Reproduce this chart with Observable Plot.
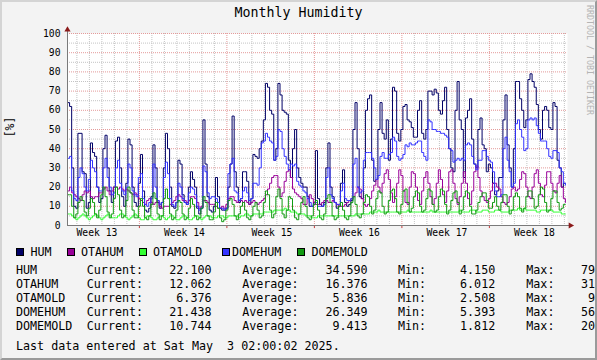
<!DOCTYPE html>
<html><head><meta charset="utf-8">
<script src="https://cdn.jsdelivr.net/npm/d3@7"></script>
<script src="https://cdn.jsdelivr.net/npm/@observablehq/plot@0.6"></script>
<style>
html,body{margin:0;padding:0;background:#f3f3f3;}
#chart{position:relative;width:597px;height:360px;overflow:hidden;background:#f3f3f3;font-family:"DejaVu Sans Mono",monospace;color:#000;}
#chart svg{position:absolute;left:0;top:0;}
.t{position:absolute;white-space:pre;font-size:11.7px;line-height:14px;height:14px;}
.r{text-align:right;}
.sw{position:absolute;width:6px;height:6px;border:1px solid #000;}
#frame{position:absolute;left:0;top:0;width:597px;height:360px;box-sizing:border-box;border-top:2px solid #d4d4d4;border-left:2px solid #d4d4d4;border-right:2px solid #9a9a9a;border-bottom:2px solid #9a9a9a;pointer-events:none;}
</style></head>
<body><div id="chart"></div>
<script>
// ---- data (4-hour samples, Mar 24 06:00 -> May 3 02:00) ----
const seriesNames = ["HUM", "OTAHUM", "OTAMOLD", "DOMEHUM", "DOMEMOLD"];
const seriesColors = ["#000066", "#990099", "#33ff33", "#3333ff", "#119a11"];

const hum = [64,62,30,10,9,48,48,28,27,9, 12,43,38,36,20,12,14,40,47,30,
  18,12,20,44,46,30,15,10,22,45, 42,20,12,10,22,37,18,8,7,9,
  15,42,30,12,9,12,30,48,40,20, 10,9,12,34,32,16,12,11,20,28,
  24,20,9,6,9,55,32,15,8,7, 10,25,15,9,8,8,9,20,32,57,
  28,20,12,14,28,28,23,11,14,37, 36,35,40,44,55,74,72,60,58,34,
  40,74,68,60,59,58,34,25,40,50, 30,25,22,20,20,15,10,10,12,39,
  14,11,10,12,30,43,20,15,12,9, 10,22,29,12,10,11,13,50,64,40,
  15,14,30,60,66,68,34,23,24,50, 64,48,45,55,34,45,72,70,48,44,
  50,62,63,55,54,51,46,46,60,65, 48,45,50,70,70,68,71,69,60,58,
  65,72,50,40,30,28,60,75,55,50, 25,56,60,66,45,32,30,50,56,42,
  40,28,32,30,22,16,18,25,25,55, 68,42,30,20,40,75,75,66,60,51,
  55,76,79,75,72,63,50,45,60,62, 60,51,50,64,62,34,30,20,22,22];

const otahum = [18,20,17,16,15,14,13,16,18,17, 18,15,14,15,15,17,17,19,20,18,
  16,18,20,20,19,20,19,18,19,18, 17,16,17,16,14,13,12,11,13,14,
  12,11,12,13,10,9,10,10,10,11, 12,13,15,16,15,13,13,12,13,15,
  15,14,12,9,10,13,13,12,11,11, 11,10,9,9,10,9,11,14,15,15,
  13,12,13,13,12,13,12,11,12,13, 12,11,12,13,14,16,19,22,25,26,
  26,20,15,17,23,28,29,25,19,17, 16,15,14,11,11,14,16,14,12,11,
  11,11,12,13,13,12,12,13,12,11, 10,10,10,11,12,13,14,15,17,20,
  19,14,11,10,11,14,18,21,24,20, 17,22,27,29,24,17,12,15,22,29,
  26,18,12,11,20,28,27,20,13,11, 18,25,28,22,15,11,14,22,29,24,
  16,12,18,28,29,22,14,11,15,22, 28,22,14,11,18,28,31,25,18,15,
  13,12,14,18,22,22,20,19,15,12, 11,12,15,19,20,18,19,24,28,27,
  20,15,14,20,27,29,22,16,15,21, 28,28,22,18,17,22,26,20,14,12];

const otamold = [6,6,5,4,3,4,5,6,5,4, 3,4,5,6,5,4,3,4,5,6,
  5,4,4,4,5,6,6,5,4,3, 4,5,6,5,4,3,3,4,5,5,
  4,3,3,4,5,5,4,3,4,5, 5,4,3,3,4,5,5,4,3,3,
  4,5,5,4,3,4,5,5,5,4, 4,4,5,5,5,4,4,5,5,5,
  5,5,4,5,5,6,6,5,5,6, 6,6,6,6,7,7,7,7,7,8,
  8,8,8,8,9,8,8,7,7,7, 6,6,6,6,5,5,5,4,4,4,
  5,5,5,5,5,5,5,5,5,5, 5,5,5,5,5,5,5,5,6,6,
  6,6,6,6,6,7,7,7,7,8, 7,7,7,7,7,7,7,7,7,7,
  7,7,7,8,7,7,7,7,7,7, 7,7,7,7,8,7,7,7,7,7,
  7,7,7,7,7,7,7,7,8,7, 7,7,7,8,8,8,7,7,7,8,
  8,8,7,7,7,8,8,8,7,7, 7,7,8,8,8,8,9,8,8,9,
  8,8,8,8,8,7,7,8,8,8, 8,8,8,7,7,7,7,6,6,6];

const domehum = [35,36,18,14,13,25,30,27,20,18, 24,34,30,28,20,18,18,30,35,25,
  20,16,17,30,34,22,18,16,20,32, 30,18,16,15,25,27,14,11,10,12,
  14,32,20,13,11,12,25,33,27,14, 11,10,12,22,20,14,12,11,17,20,
  19,16,10,8,9,31,28,17,14,15, 15,14,12,9,9,8,9,27,32,35,
  18,17,13,14,18,20,17,13,14,22, 22,21,30,43,44,48,46,44,43,34,
  36,50,49,40,36,32,29,32,31,32, 23,21,20,18,17,14,12,10,11,12,
  10,10,10,11,25,30,16,14,12,11, 11,18,22,14,13,13,14,32,35,20,
  17,18,34,38,38,38,35,30,24,26, 36,38,35,35,37,38,46,44,36,34,
  35,37,42,41,43,42,42,43,44,44, 38,36,34,55,54,50,50,49,49,48,
  48,47,46,40,39,33,34,35,34,35, 34,42,43,42,36,32,29,34,34,39,
  39,36,34,33,28,18,15,15,16,40, 46,34,28,20,22,53,55,50,46,39,
  40,55,56,55,56,52,48,44,44,44, 40,36,35,39,39,38,30,28,22,21];

const domemold = [16,16,10,4,6,12,15,13,7,5, 9,14,12,6,4,8,16,20,15,7,
  4,6,14,20,16,8,4,5,13,20, 17,8,4,4,10,14,10,4,3,5,
  11,17,14,6,3,5,14,19,14,6, 3,4,8,13,12,6,3,4,9,14,
  11,5,3,4,9,15,12,5,3,3, 7,12,9,4,2,3,8,13,14,11,
  5,3,6,10,12,8,4,3,5,10, 12,8,4,5,12,18,16,8,4,6,
  15,19,14,6,4,8,15,14,8,4, 3,6,12,15,10,4,3,5,11,13,
  8,4,3,6,14,16,12,5,3,4, 10,12,8,4,3,5,12,15,11,5,
  4,6,12,16,15,10,6,8,14,18, 17,10,6,7,13,18,19,14,7,6,
  11,18,19,12,7,9,15,18,17,10, 7,8,14,19,18,11,7,8,15,19,
  18,11,6,8,13,17,18,12,6,8, 15,18,17,10,6,6,8,12,15,17,
  17,13,9,9,12,15,10,8,12,16, 16,10,6,8,15,17,15,9,7,9,
  15,18,18,14,9,10,16,20,19,12, 7,8,14,18,18,12,8,9,11,11];

const statCurrent = ["22.100", "12.062", "6.376", "21.438", "10.744"];
const statAverage = ["34.590", "16.376", "5.836", "26.349", "9.413"];
const statMin = ["4.150", "6.012", "2.508", "5.393", "1.812"];
const statMax = ["79.300", "31.050", "9.290", "56.180", "20.130"];

const yMajorTicks = [0, 10, 20, 30, 40, 50, 60, 70, 80, 90, 100];
const yMinorTicks = [5, 15, 25, 35, 45, 55, 65, 75, 85, 95];
const weekLabelDates = ["2025-03-26T14:30Z", "2025-04-02T14:30Z", "2025-04-09T14:30Z",
  "2025-04-16T14:30Z", "2025-04-23T14:30Z", "2025-04-30T14:30Z"].map(s => new Date(s));

const titleText = "Monthly Humidity";
const yLabelText = "[%]";
const watermarkText = "RRDTOOL / TOBI OETIKER";
const lastDataText = "Last data entered at Sat May  3 02:00:02 2025.";

// ---- time axis ----
const tStart = new Date(Date.UTC(2025, 2, 24, 6));
const tEnd = new Date(Date.UTC(2025, 4, 3, 6));
const stepHours = 4;
const rows = hum.map((v, i) => ({
  t: new Date(+tStart + i * stepHours * 3600e3),
  HUM: v, OTAHUM: otahum[i], OTAMOLD: otamold[i], DOMEHUM: domehum[i], DOMEMOLD: domemold[i]
}));
const weekTicks = d3.utcSunday.range(tStart, tEnd);
const dayTicks = d3.utcDay.range(tStart, tEnd).filter(d => d.getUTCDay() !== 0);
const span = tEnd - tStart;
const xAxisEnd = new Date(+tEnd + span * 0.005);

const dash = "1,1";
const svg = Plot.plot({
  width: 597, height: 360,
  marginLeft: 67, marginRight: 30, marginTop: 33, marginBottom: 135,
  x: {type: "utc", domain: [tStart, tEnd], axis: null},
  y: {domain: [0, 100], axis: null},
  style: {background: "transparent", fontFamily: "DejaVu Sans Mono", fontSize: "9.7px", color: "#000", overflow: "visible"},
  marks: [
    Plot.frame({fill: "#ffffff"}),
    Plot.ruleY(yMinorTicks, {stroke: "#c4c4c4", strokeDasharray: dash}),
    Plot.ruleX(dayTicks, {stroke: "#c4c4c4", strokeDasharray: dash}),
    Plot.ruleY(yMajorTicks.filter(v => v > 0), {stroke: "#e49a9a", strokeDasharray: dash}),
    Plot.ruleX(weekTicks, {stroke: "#e49a9a", strokeDasharray: dash}),
    ...seriesNames.map((k, i) => Plot.line(rows, {x: "t", y: k, stroke: seriesColors[i], strokeWidth: 1, curve: "step-after"})),
    Plot.ruleX(weekTicks, {y1: 0, y2: -1.6, stroke: "#c43c3c"}),
    Plot.ruleY([0], {x1: tStart, x2: xAxisEnd, stroke: "#7a7a7a"}),
    Plot.ruleX([tStart], {y1: 0, y2: 103, stroke: "#7a7a7a"}),
    Plot.dot([0], {frameAnchor: "top-left", dy: -3.7, symbol: "triangle", r: 2.3, fill: "#8b1a1a", stroke: null}),
    Plot.dot([0], {frameAnchor: "bottom-right", dx: 3, symbol: "triangle", r: 2.3, rotate: 90, fill: "#8b1a1a", stroke: null}),
    Plot.text(yMajorTicks, {y: d => d, frameAnchor: "left", dx: -7, textAnchor: "end", text: d => String(d), fill: "#000"}),
    Plot.text(weekLabelDates, {x: d => d, frameAnchor: "bottom", dy: 10, text: d3.utcFormat("Week %V"), fill: "#000"})
  ]
});

const chart = document.getElementById("chart");
chart.appendChild(svg);

function addText(txt, left, centerY, opts = {}) {
  const d = document.createElement("div");
  d.className = "t" + (opts.right ? " r" : "");
  d.textContent = txt;
  if (opts.right) { d.style.right = (597 - left) + "px"; } else { d.style.left = left + "px"; }
  d.style.top = (centerY - 7) + "px";
  chart.appendChild(d);
  return d;
}

// title
const title = document.createElement("div");
title.textContent = titleText;
Object.assign(title.style, {position: "absolute", left: "0", width: "597px", top: "5px", textAlign: "center", fontSize: "13.3px", lineHeight: "16px", whiteSpace: "pre"});
chart.appendChild(title);

// y label
const yl = document.createElement("div");
yl.textContent = yLabelText;
Object.assign(yl.style, {position: "absolute", left: "9.5px", top: "127px", transform: "translate(-50%,-50%) rotate(-90deg)", fontSize: "11.4px", lineHeight: "12px", whiteSpace: "pre"});
chart.appendChild(yl);

// watermark
const wm = document.createElement("div");
wm.textContent = watermarkText;
Object.assign(wm.style, {position: "absolute", left: "588.5px", top: "60px", transform: "translate(-50%,-50%) rotate(90deg)", fontSize: "8.3px", lineHeight: "9px", color: "#b4b4b4", whiteSpace: "pre"});
chart.appendChild(wm);

// legend swatches
const swX = [16, 67, 138.5, 221.5, 297];
const lgX = [30.5, 81, 153, 232, 311.5];
seriesNames.forEach((n, i) => {
  const s = document.createElement("div");
  s.className = "sw";
  s.style.left = swX[i] + "px";
  s.style.top = "248px";
  s.style.background = seriesColors[i];
  chart.appendChild(s);
  addText(n, lgX[i], 251.7);
});

// stats
const rowY = [270, 284, 298, 312, 326];
seriesNames.forEach((n, i) => {
  const y = rowY[i];
  addText(n, 16, y);
  addText("Current:", 86.8, y);
  addText(statCurrent[i], 211.5, y, {right: true});
  addText("Average:", 242.2, y);
  addText(statAverage[i], 367.6, y, {right: true});
  addText("Min:", 398, y);
  addText(statMin[i], 495.2, y, {right: true});
  addText("Max:", 526.3, y);
  addText(statMax[i], 623.3, y, {right: true});
});
addText(lastDataText, 16, 346);

const fr = document.createElement("div");
fr.id = "frame";
chart.appendChild(fr);
</script>
</body></html>
